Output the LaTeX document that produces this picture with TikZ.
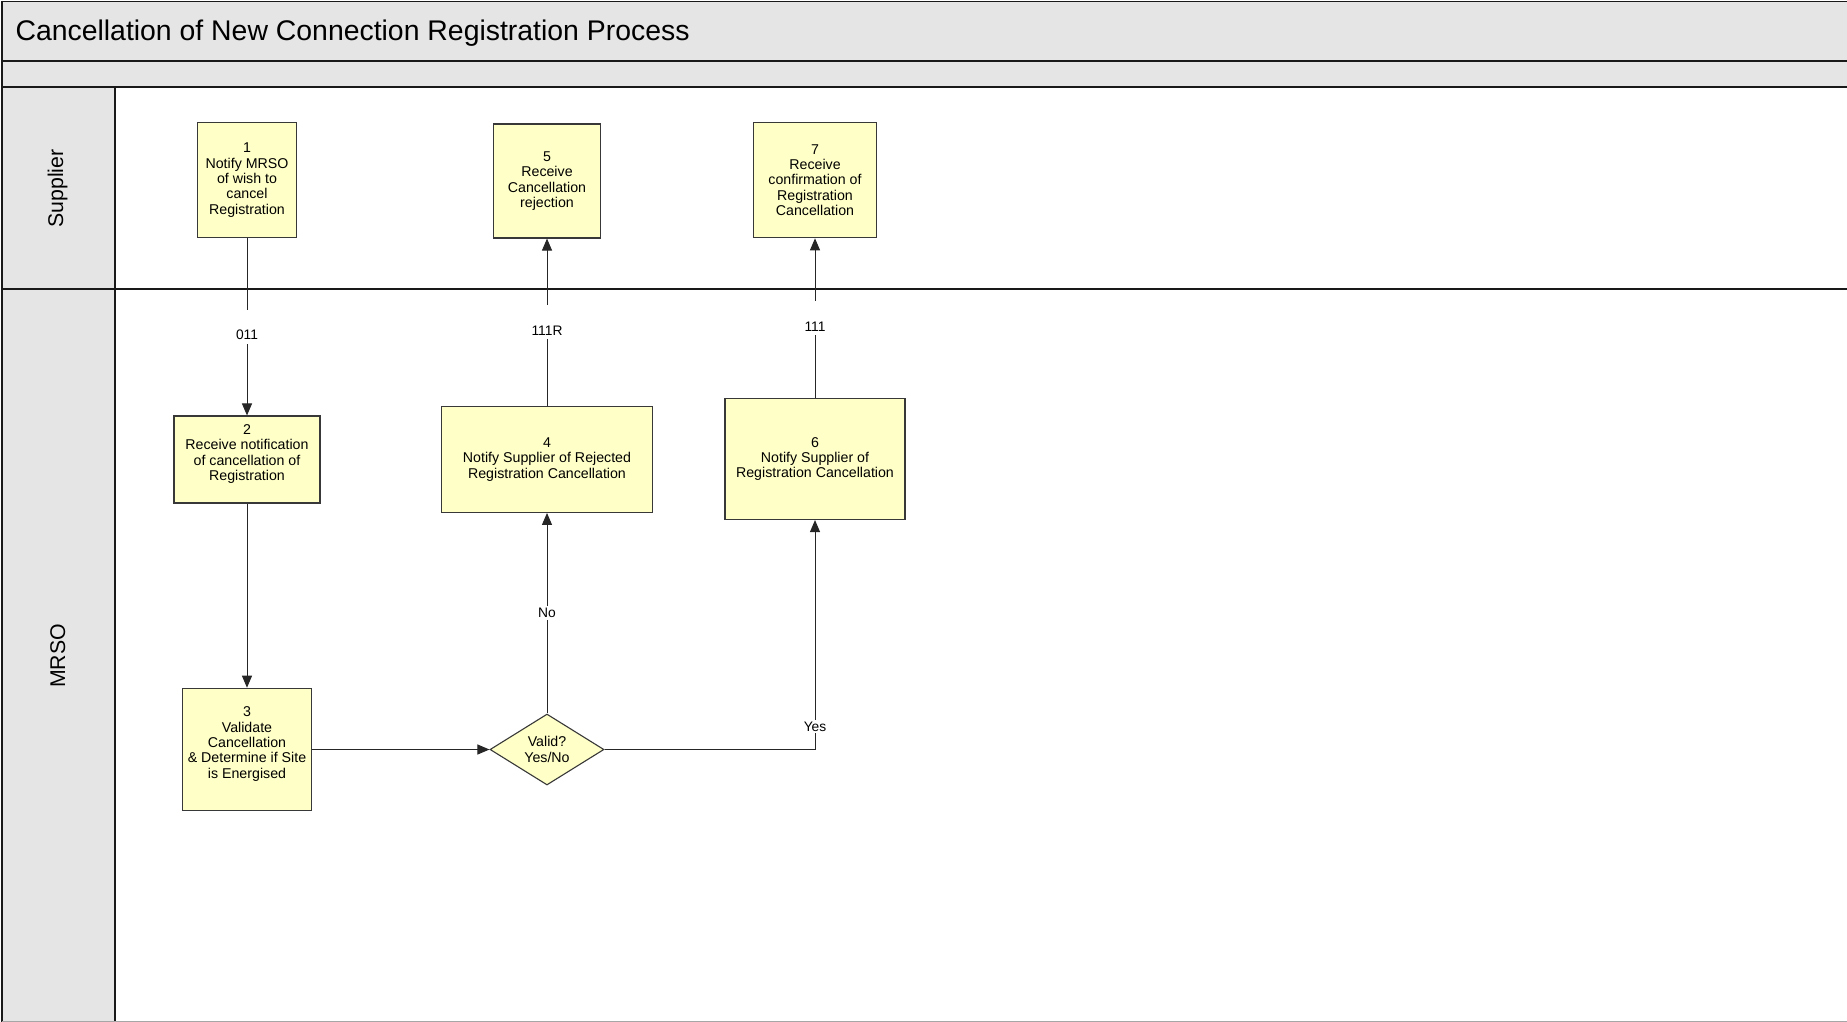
\documentclass[tikz,border=0pt]{standalone}
\usepackage{fontspec}
\setmainfont{Liberation Sans}
\usetikzlibrary{arrows.meta,shapes.geometric}
\definecolor{lanegrey}{HTML}{E5E5E5}
\definecolor{boxyellow}{HTML}{FFFFC8}
\definecolor{edgegrey}{HTML}{383838}

\begin{document}
\begin{tikzpicture}[x=1pt,y=-1pt,
  proc/.style={draw=edgegrey,line width=1.1pt,fill=boxyellow,inner sep=2pt,
               align=center,font=\fontsize{14.2}{15.3}\selectfont},
  dec/.style={diamond,draw=edgegrey,line width=1.1pt,fill=boxyellow,inner sep=0pt,
              minimum width=114pt,minimum height=62pt,align=center,
              font=\fontsize{14.2}{15.3}\selectfont},
  conn/.style={draw=black!85,line width=1pt,-{Triangle[length=12pt,width=10pt]}},
  msg/.style={fill=white,inner xsep=2pt,inner ysep=4pt,text height=26pt,
              text depth=0pt,font=\fontsize{13.8}{15}\selectfont},
  lbl/.style={fill=white,inner sep=2pt,font=\fontsize{13.8}{15}\selectfont},
  rule/.style={line width=1.7pt,draw=black!90},
  lanelbl/.style={rotate=90,font=\fontsize{21.3}{24}\selectfont}
]
\useasboundingbox (0,0) rectangle (1847,1022);

% ---- Frame --------------------------------------------------
\fill[lanegrey] (2,1) rectangle (1847,87);
\fill[lanegrey] (2,87) rectangle (115,1022);
\draw[rule] (2,1.5) -- (1847,1.5);
\draw[rule] (2,61) -- (1847,61);
\draw[rule] (2,87) -- (1847,87);
\draw[rule] (2,289) -- (1847,289);
\draw[rule] (2,1) -- (2,1022);
\draw[rule] (115,87) -- (115,1022);
\draw[black!35,line width=1pt] (2,1021) -- (1847,1021);

\node[anchor=west,font=\fontsize{28.4}{33}\selectfont] (title) at (12,33.5)
  {Cancellation of New Connection Registration Process};
\node[lanelbl] (supplier) at (57.7,188.5) {Supplier};
\node[lanelbl] (mrso) at (57.7,656) {MRSO};

% ---- Supplier lane ------------------------------------------
\node[proc,minimum width=99pt,minimum height=115pt] (b1) at (247,180)
  {1\\Notify MRSO\\of wish to\\cancel\\Registration};
\node[proc,minimum width=107pt,minimum height=114pt] (b5) at (547,181)
  {5\\Receive\\Cancellation\\rejection};
\node[proc,minimum width=122.5pt,minimum height=115.5pt] (b7) at (815,180)
  {7\\Receive\\confirmation of\\Registration\\Cancellation};

% ---- MRSO lane ----------------------------------------------
\node[proc,minimum width=146pt,minimum height=87pt] (b2) at (247,459.5)
  {2\\Receive notification\\of cancellation of\\Registration\\[-6pt]\strut};
\node[proc,minimum width=211pt,minimum height=106pt] (b4) at (547,459.4)
  {4\\Notify Supplier of Rejected\\Registration Cancellation};
\node[proc,minimum width=180pt,minimum height=121pt] (b6) at (815,459)
  {6\\Notify Supplier of\\Registration Cancellation};
\node[proc,minimum width=129.6pt,minimum height=122.5pt] (b3) at (247,749.5)
  {3\\Validate\\Cancellation\\\& Determine if Site\\is Energised\\[-6pt]\strut};
\node[dec] (valid) at (547,749.5) {Valid?\\Yes/No};

% ---- Connectors ---------------------------------------------
\draw[conn] (b1) -- node[msg] {011} (b2);
\draw[conn] (b2) -- (b3);
\draw[conn] (b3) -- (valid);
\draw[conn] (valid) -- node[lbl] {No} (b4);
\draw[conn] (valid.east) -| node[lbl,pos=0.55] {Yes} (b6.south);
\draw[conn] (b4) -- node[msg] {111R} (b5);
\draw[conn] (b6) -- node[msg] {111} (b7);

\end{tikzpicture}
\end{document}
